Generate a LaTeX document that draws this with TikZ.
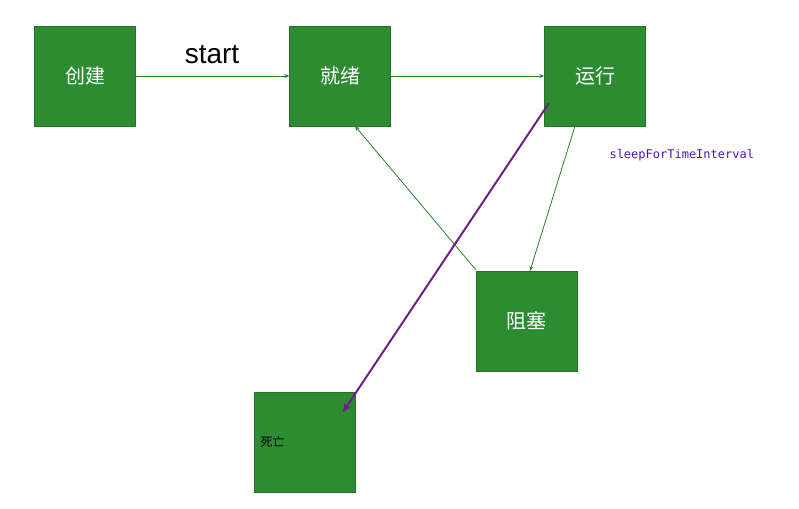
\documentclass[tikz,border=0pt]{standalone}
\usepackage{fontspec}
\setmainfont{Liberation Sans}
\newfontfamily\cjk{Noto Sans CJK SC}
\newfontfamily\mono{DejaVu Sans Mono}
\usetikzlibrary{arrows.meta}
\definecolor{boxg}{RGB}{45,140,50}
\definecolor{lineg}{RGB}{40,130,40}
\definecolor{purp}{RGB}{110,30,140}
\tikzset{
 st/.style={fill=boxg, draw=boxg!80!black, minimum width=101pt, minimum height=100pt, inner sep=0pt, font=\cjk\fontsize{20}{24}\selectfont, text=white},
 gar/.style={draw=lineg, line width=0.8pt, -{Stealth[length=5pt,width=4pt]}},
 par/.style={draw=purp, line width=2pt, -{Stealth[length=9pt,width=8pt]}}
}
\begin{document}
\begin{tikzpicture}[x=1pt,y=-1pt]
\useasboundingbox (0,0) rectangle (799,508);
\node[st] (cj) at (85,76) {创建};
\node[st] (jx) at (340,76) {就绪};
\node[st] (yx) at (595,76) {运行};
\node[st] (zs) at (526.5,321) {阻塞};
\node[st] (sw) at (305,442) {};
\node[font=\cjk\fontsize{12}{14}\selectfont, text=black, anchor=west] (swl) at (257,442) {死亡};
\node[font=\fontsize{28}{32}\selectfont] (startl) at (212,55) {start};
\node[font=\mono\fontsize{12}{14}\selectfont, text=purp!70!blue, anchor=west] (sl) at (606,155) {sleepForTimeInterval};
\coordinate (p1) at (549,103);
\coordinate (p2) at (343,412);
\draw[gar] (cj.east) -- (jx.west);
\draw[gar] (jx.east) -- (yx.west);
\draw[gar] (575,126) -- (530,271);
\draw[gar] (476,270) -- (355,126);
\draw[par] (p1) -- (p2);
\end{tikzpicture}
\end{document}
